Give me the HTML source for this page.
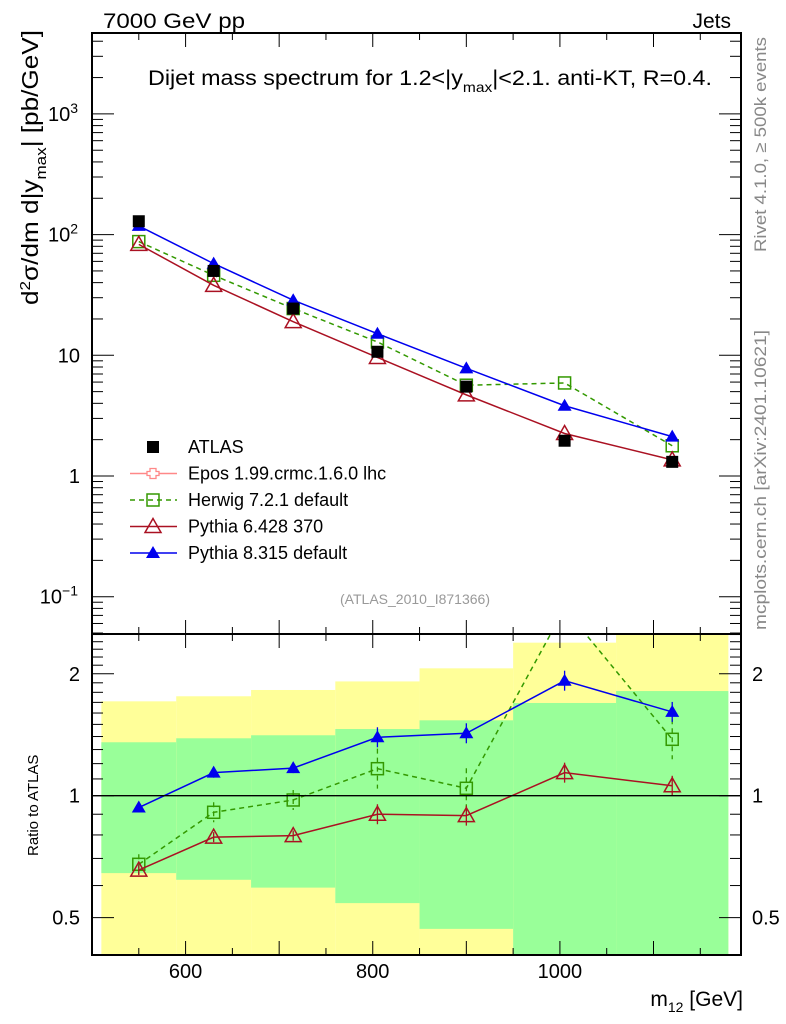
<!DOCTYPE html>
<html><head><meta charset="utf-8"><style>
body{margin:0;background:#fff}
svg{display:block;font-family:"Liberation Sans",sans-serif}
</style></head><body>
<svg id="c" width="786" height="1024" viewBox="0 0 786 1024">
<g id="bands"></g><g id="grid"></g><g id="series"></g><g id="axes"></g>
<text x="103" y="28" font-size="21" textLength="142" lengthAdjust="spacingAndGlyphs">7000 GeV pp</text>
<text x="731" y="28" font-size="21" text-anchor="end">Jets</text>
<text x="148" y="85" font-size="21" textLength="564" lengthAdjust="spacingAndGlyphs">Dijet mass spectrum for 1.2&lt;|y<tspan font-size="14" dy="7">max</tspan><tspan dy="-7">|&lt;2.1.  anti-KT, R=0.4.</tspan></text>
<text x="415" y="604" font-size="14" fill="#999" text-anchor="middle">(ATLAS_2010_I871366)</text>
<text transform="translate(766,252) rotate(-90)" font-size="17" fill="#888" textLength="215" lengthAdjust="spacingAndGlyphs">Rivet 4.1.0, ≥ 500k events</text>
<text transform="translate(766,630) rotate(-90)" font-size="17" fill="#888" textLength="300" lengthAdjust="spacingAndGlyphs">mcplots.cern.ch [arXiv:2401.10621]</text>
<text transform="translate(38,305) rotate(-90)" font-size="23" textLength="275" lengthAdjust="spacingAndGlyphs">d<tspan font-size="15" dy="-8">2</tspan><tspan dy="8">σ/dm d|y</tspan><tspan font-size="15" dy="8">max</tspan><tspan dy="-8">| [pb/GeV]</tspan></text>
<text transform="translate(38,856) rotate(-90)" font-size="15">Ratio to ATLAS</text>
<text x="743" y="1006" font-size="21" text-anchor="end">m<tspan font-size="14" dy="6">12</tspan><tspan dy="-6"> [GeV]</tspan></text>
<g id="legend"></g>
</svg>
<script>
const xCenters=[550,630,715,805,900,1005,1120];
const atlas=[129,50,24.4,10.7,5.5,1.96,1.31];
const herwig=[87.5,46,24.4,12.9,5.65,5.9,1.78];
const pythia6=[83,38,19,9.6,4.7,2.25,1.36];
const pythia8=[118,57.5,28.6,15.1,7.8,3.82,2.12];
const rHerwig=[0.677,0.91,0.976,1.166,1.043,2.9,1.378];
const rPythia6=[0.655,0.79,0.797,0.9,0.893,1.14,1.058];
const rPythia8=[0.935,1.14,1.17,1.394,1.426,1.923,1.61];
const binEdges=[510,590,670,760,850,950,1060,1180];
const yellowHi=[1.71,1.76,1.824,1.915,2.063,2.387,3];
const greenHi=[1.355,1.386,1.41,1.461,1.535,1.694,1.813];
const greenLo=[0.644,0.62,0.593,0.543,0.469,0.3,0.3];
const yellowLo=[0.3,0.3,0.3,0.3,0.3,0.3,0.3];
const xTicks=[600,800,1000];
const NS='http://www.w3.org/2000/svg';
const L=92,R=741,T=33,MB=634,RB=955;
const X=v=>L+(v-500)*(R-L)/(1193.5-500);
const Y=v=>476-120.7*Math.log10(v);
const YR=v=>795.7-405*Math.log10(v);
const RT=10**((795.7-MB)/405),RBv=10**(-(RB-795.7)/405);
function mk(p,t,a){const e=document.createElementNS(NS,t);for(const k in a)e.setAttribute(k,a[k]);document.getElementById(p)?document.getElementById(p).appendChild(e):p.appendChild(e);return e;}
for(let i=0;i<7;i++){
 const x0=X(binEdges[i]),x1=X(binEdges[i+1]);
 let e=mk('bands','rect',{x:x0,y:YR(Math.min(yellowHi[i],RT)),width:x1-x0,height:YR(Math.max(yellowLo[i],RBv))-YR(Math.min(yellowHi[i],RT)),fill:'#ffff99'});
 
 e=mk('bands','rect',{x:x0,y:YR(greenHi[i]),width:x1-x0,height:YR(Math.max(greenLo[i],RBv))-YR(greenHi[i]),fill:'#99ff99'});
 
}
mk('axes','rect',{x:L,y:T,width:R-L,height:MB-T,fill:'none',stroke:'#000','stroke-width':2});
mk('axes','rect',{x:L,y:MB,width:R-L,height:RB-MB,fill:'none',stroke:'#000','stroke-width':2});
mk('axes','line',{x1:L,x2:R,y1:YR(1),y2:YR(1),stroke:'#000','stroke-width':1.3});
for(let v=500;v<=1180;v+=50){const x=X(v),big=v%100==0;
 [[T,1],[MB,1],[MB,-1],[RB,-1]].forEach(([y,d])=>mk('axes','line',{x1:x,x2:x,y1:y,y2:y+d*(big?14:7),stroke:'#000'}));}
xTicks.forEach(v=>{const t=mk('axes','text',{x:X(v),y:978,'font-size':20,'text-anchor':'middle'});t.textContent=v;});
for(let d=-2;d<=3;d++)for(let m=1;m<10;m++){const v=m*10**d,y=Y(v);if(y<T||y>MB)continue;const w=m==1?22:11;
 mk('axes','line',{x1:L,x2:L+w,y1:y,y2:y,stroke:'#000'});mk('axes','line',{x1:R,x2:R-w,y1:y,y2:y,stroke:'#000'});}
[[0.1,'10','−1'],[1,'1',''],[10,'10',''],[100,'10','2'],[1000,'10','3']].forEach(([v,b,s])=>{const t=mk('axes','text',{x:s?78:80,y:Y(v)+7,'font-size':20,'text-anchor':'end'});t.textContent=b;
 if(s){const sp=mk(t,'tspan',{'font-size':14,dy:-8});sp.textContent=s;}});
for(const v of [0.4,0.5,0.6,0.7,0.8,0.9,1,1.1,1.2,1.3,1.4,1.5,1.6,1.7,1.8,1.9,2,2.1,2.2,2.3,2.4,2.5]){const y=YR(v);if(y<MB||y>RB)continue;const big=[0.5,1,2].includes(v),w=big?22:11;
 mk('axes','line',{x1:L,x2:L+w,y1:y,y2:y,stroke:'#000'});mk('axes','line',{x1:R,x2:R-w,y1:y,y2:y,stroke:'#000'});}
[[0.5,'0.5'],[1,'1'],[2,'2']].forEach(([v,s])=>{let t=mk('axes','text',{x:80,y:YR(v)+7,'font-size':20,'text-anchor':'end'});t.textContent=s;
 t=mk('axes','text',{x:752,y:YR(v)+7,'font-size':20});t.textContent=s;});
const defs=mk(document.getElementById('c'),'defs',{});
const cp=mk(defs,'clipPath',{id:'rc'});mk(cp,'rect',{x:L,y:MB,width:R-L,height:RB-MB});
const cm=mk(defs,'clipPath',{id:'mc'});mk(cm,'rect',{x:L,y:T,width:R-L,height:MB-T});
function marker(g,type,x,y,col){
 if(type=='sq')return mk(g,'rect',{x:x-6,y:y-6,width:12,height:12,fill:'none',stroke:col,'stroke-width':1.5});
 if(type=='fsq')return mk(g,'rect',{x:x-6,y:y-6,width:12,height:12,fill:col});
 if(type=='otri')return mk(g,'polygon',{points:`${x},${y-8} ${x-8},${y+6} ${x+8},${y+6}`,fill:'none',stroke:col,'stroke-width':1.5});
 return mk(g,'polygon',{points:`${x},${y-7} ${x-7},${y+5} ${x+7},${y+5}`,fill:col});
}
function series(name,vals,yf,col,dash,type,clip,err){
 const g=mk('series','g',{'clip-path':`url(#${clip})`});
 
 const pts=vals.map((v,i)=>[X(xCenters[i]),yf(v)]);
 mk(g,'polyline',{points:pts.map(p=>p.join(',')).join(' '),fill:'none',stroke:col,'stroke-width':1.5,'stroke-dasharray':dash||'none'});
 pts.forEach((p,i)=>{
  if(err){const e=err*(i>=3?2:1);mk(g,'line',{x1:p[0],x2:p[0],y1:p[1]-e,y2:p[1]+e,stroke:col,'stroke-width':1.3,'stroke-dasharray':dash||'none'});}
  const m=marker(g,type,p[0],p[1],col);});
}
series('herwig-main',herwig,Y,'#339900','5,4','sq','mc');
series('pythia6-main',pythia6,Y,'#aa1122',null,'otri','mc');
series('pythia8-main',pythia8,Y,'#0000ee',null,'ftri','mc');
{const g=mk('series','g',{});
 atlas.forEach((v,i)=>{const m=marker(g,'fsq',X(xCenters[i]),Y(v),'#000');});}
series('herwig-ratio',rHerwig,YR,'#339900','5,4','sq','rc',10);
series('pythia6-ratio',rPythia6,YR,'#aa1122',null,'otri','rc',5);
series('pythia8-ratio',rPythia8,YR,'#0000ee',null,'ftri','rc',5);
const leg=[['ATLAS','#000',null,'fsq',false],['Epos 1.99.crmc.1.6.0 lhc','#ff8888',null,'cross',true],['Herwig 7.2.1 default','#339900','5,4','sq',true],['Pythia 6.428 370','#aa1122',null,'otri',true],['Pythia 8.315 default','#0000ee',null,'ftri',true]];
const legW=[80,207,165,140,165];
leg.forEach((e,i)=>{const y=447+i*26.5;const g=mk('legend','g',{});
 if(e[4])mk(g,'line',{x1:130,x2:177,y1:y,y2:y,stroke:e[1],'stroke-width':1.5,'stroke-dasharray':e[2]||'none'});
 if(e[3]=='cross'){mk(g,'path',{d:`M150,${y-5}h6v3h3v4h-3v3h-6v-3h-3v-4h3z`,fill:'#fff',stroke:e[1],'stroke-width':1.3});}
 else marker(g,e[3],153,y,e[1]);
 const t=mk(g,'text',{x:188,y:y+6,'font-size':18});t.textContent=e[0];});
</script>
</body></html>
